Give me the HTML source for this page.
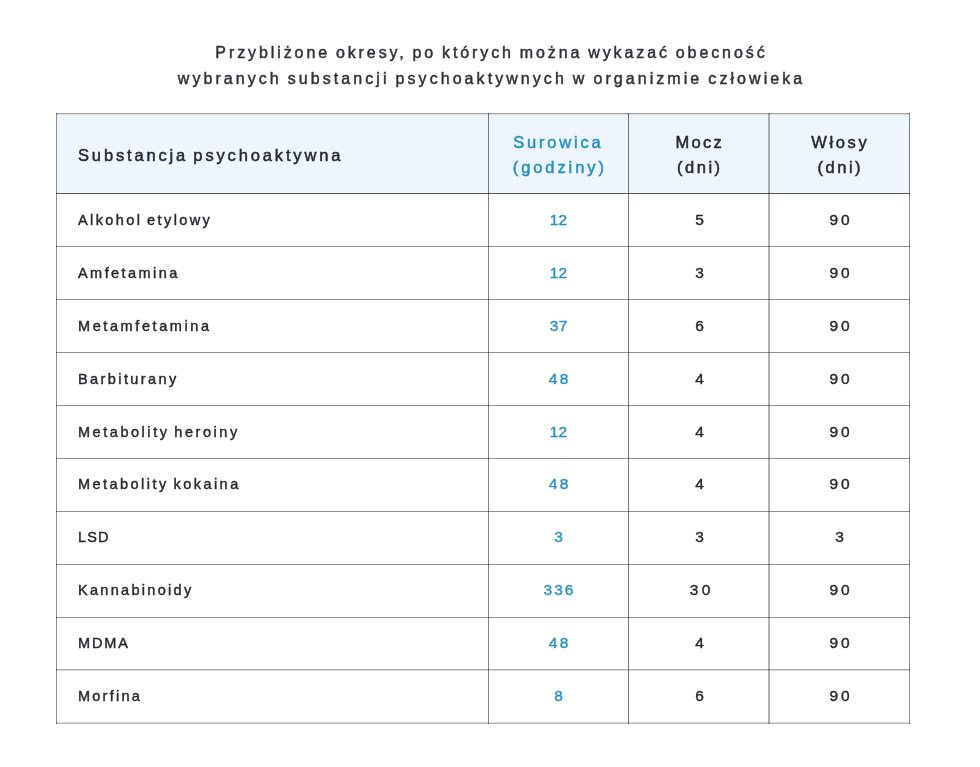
<!DOCTYPE html>
<html lang="pl">
<head>
<meta charset="utf-8">
<title>Tabela</title>
<style>
  html, body { margin: 0; padding: 0; }
  body {
    width: 980px; height: 767px; background: #ffffff; overflow: hidden; position: relative;
    font-family: "Liberation Sans", sans-serif; color: #2b2e35;
  }
  .title {
    position: absolute; left: 0; top: 40px; width: 980px; text-align: center;
    font-size: 16px; line-height: 25.6px; color: #2d3037;
    white-space: nowrap; -webkit-text-stroke: 0.45px #2d3037;
  }
  .title span { display: block; }
  .title, table { will-change: transform; }
  #t1 { letter-spacing: 2.91px; padding-left: 2.91px; word-spacing: -1.5px; }
  #t2 { letter-spacing: 3.06px; padding-left: 3.06px; word-spacing: -1.5px; }
  table {
    position: absolute; left: 56px; top: 113px; width: 854px;
    border-collapse: collapse; table-layout: fixed;
  }
  td, th { border: 1px solid transparent; padding: 0; font-weight: normal; }
  th { background: #eff5fd; height: 76px; padding-top: 3px; font-size: 16.5px; line-height: 25px; letter-spacing: 2.6px; color: #27292f; padding-left: 2.6px; -webkit-text-stroke: 0.5px currentColor; }
  td { height: 51px; padding-bottom: 1px; font-size: 15.5px; letter-spacing: 1.5px; text-align: center; color: #26282e; text-indent: 1.5px; -webkit-text-stroke: 0.4px currentColor; }
  th.c1, td.c1 { text-align: left; padding-left: 21px; }
  th.c1 { letter-spacing: 2.85px; word-spacing: -2.2px; height: 75px; padding-top: 4px; }
  .blue { color: #2891c4; }
  td:nth-child(3) { padding-left: 2.2px; }
  td:nth-child(4) { padding-left: 1.2px; }
  td.c1 { padding-left: 21px; text-indent: 0; padding-bottom: 0; height: 52px; font-size: 14.5px; letter-spacing: 2.4px; word-spacing: -1.7px; -webkit-text-stroke: 0.42px currentColor; }
  .ln { position: absolute; background: rgba(0,0,0,0.47); pointer-events: none; }
  .h { left: 56px; width: 854px; height: 1px; }
  .v { top: 113px; height: 611px; width: 1px; }
  tbody tr:nth-child(2) { transform: translateY(-0.11px); }
  tbody tr:nth-child(3) { transform: translateY(-0.22px); }
  tbody tr:nth-child(4) { transform: translateY(-0.33px); }
  tbody tr:nth-child(5) { transform: translateY(-0.44px); }
  tbody tr:nth-child(6) { transform: translateY(-0.55px); }
  tbody tr:nth-child(7) { transform: translateY(-0.66px); }
  tbody tr:nth-child(8) { transform: translateY(-0.77px); }
  tbody tr:nth-child(9) { transform: translateY(-0.88px); }
  tbody tr:nth-child(10) { transform: translateY(-0.99px); }
  col.a { width: 432px; } col.b { width: 140px; } col.c { width: 140px; } col.d { width: 141px; }
</style>
</head>
<body>
<div class="title"><span id="t1">Przybliżone okresy, po których można wykazać obecność</span><span id="t2">wybranych substancji psychoaktywnych w organizmie człowieka</span></div>
<table>
  <colgroup><col class="a"><col class="b"><col class="c"><col class="d"></colgroup>
  <thead>
    <tr><th class="c1"><span id="h1">Substancja psychoaktywna</span></th><th class="blue"><span style="margin-right:3px;letter-spacing:2.8px">Surowica</span><br><span style="letter-spacing:2.92px">(godziny)</span></th><th><span style="letter-spacing:2.33px">Mocz</span><br><span style="letter-spacing:2.5px">(dni)</span></th><th>Włosy<br><span style="letter-spacing:2.5px">(dni)</span></th></tr>
  </thead>
  <tbody>
    <tr><td class="c1" style="letter-spacing:2.4px">Alkohol etylowy</td><td class="blue" style="letter-spacing:0.2px;text-indent:0.2px">12</td><td>5</td><td style="letter-spacing:2.7px;text-indent:2.7px">90</td></tr>
    <tr><td class="c1" style="letter-spacing:2.44px">Amfetamina</td><td class="blue" style="letter-spacing:0.2px;text-indent:0.2px">12</td><td>3</td><td style="letter-spacing:2.7px;text-indent:2.7px">90</td></tr>
    <tr><td class="c1" style="letter-spacing:2.59px">Metamfetamina</td><td class="blue" style="letter-spacing:0.3px;text-indent:0.3px">37</td><td>6</td><td style="letter-spacing:2.7px;text-indent:2.7px">90</td></tr>
    <tr><td class="c1" style="letter-spacing:2.41px">Barbiturany</td><td class="blue" style="letter-spacing:2.4px;text-indent:2.4px">48</td><td>4</td><td style="letter-spacing:2.7px;text-indent:2.7px">90</td></tr>
    <tr><td class="c1" style="letter-spacing:2.54px">Metabolity heroiny</td><td class="blue" style="letter-spacing:0.2px;text-indent:0.2px">12</td><td>4</td><td style="letter-spacing:2.7px;text-indent:2.7px">90</td></tr>
    <tr><td class="c1" style="letter-spacing:2.46px">Metabolity kokaina</td><td class="blue" style="letter-spacing:2.4px;text-indent:2.4px">48</td><td>4</td><td style="letter-spacing:2.7px;text-indent:2.7px">90</td></tr>
    <tr><td class="c1" style="letter-spacing:1.1px">LSD</td><td class="blue">3</td><td>3</td><td>3</td></tr>
    <tr><td class="c1" style="letter-spacing:2.3px">Kannabinoidy</td><td class="blue" style="letter-spacing:2.0px;text-indent:2.0px">336</td><td style="letter-spacing:3.3px;text-indent:4.1px">30</td><td style="letter-spacing:2.7px;text-indent:2.7px">90</td></tr>
    <tr><td class="c1" style="letter-spacing:1.9px">MDMA</td><td class="blue" style="letter-spacing:2.4px;text-indent:2.4px">48</td><td>4</td><td style="letter-spacing:2.7px;text-indent:2.7px">90</td></tr>
    <tr><td class="c1" style="letter-spacing:2.24px">Morfina</td><td class="blue">8</td><td>6</td><td style="letter-spacing:2.7px;text-indent:2.7px">90</td></tr>
  </tbody>
</table>
<div class="ln h" style="top:113px;background:rgba(0,0,0,0.35)"></div>
<div class="ln h" style="top:193px;background:rgba(0,0,0,0.66)"></div>
<div class="ln h" style="top:246px;background:rgba(0,0,0,0.44)"></div>
<div class="ln h" style="top:299px;background:rgba(0,0,0,0.44)"></div>
<div class="ln h" style="top:352px;background:rgba(0,0,0,0.44)"></div>
<div class="ln h" style="top:405px;background:rgba(0,0,0,0.44)"></div>
<div class="ln h" style="top:458px;background:rgba(0,0,0,0.44)"></div>
<div class="ln h" style="top:511px;background:rgba(0,0,0,0.44)"></div>
<div class="ln h" style="top:564px;background:rgba(0,0,0,0.44)"></div>
<div class="ln h" style="top:617px;background:rgba(0,0,0,0.44)"></div>
<div class="ln h" style="top:669px;background:rgba(0,0,0,0.3)"></div>
<div class="ln h" style="top:670px;background:rgba(0,0,0,0.18)"></div>
<div class="ln h" style="top:722px;background:rgba(0,0,0,0.16)"></div>
<div class="ln h" style="top:723px;background:rgba(0,0,0,0.28)"></div>
<div class="ln v" style="left:56px;background:rgba(0,0,0,0.45)"></div>
<div class="ln v" style="left:488px;background:rgba(0,0,0,0.5)"></div>
<div class="ln v" style="left:628px;background:rgba(0,0,0,0.54)"></div>
<div class="ln v" style="left:768px;background:rgba(0,0,0,0.3)"></div>
<div class="ln v" style="left:769px;background:rgba(0,0,0,0.3)"></div>
<div class="ln v" style="left:909px;background:rgba(0,0,0,0.45)"></div>
<div class="ln h" style="top:114px;background:rgba(0,0,0,0.1)"></div>
</body>
</html>
